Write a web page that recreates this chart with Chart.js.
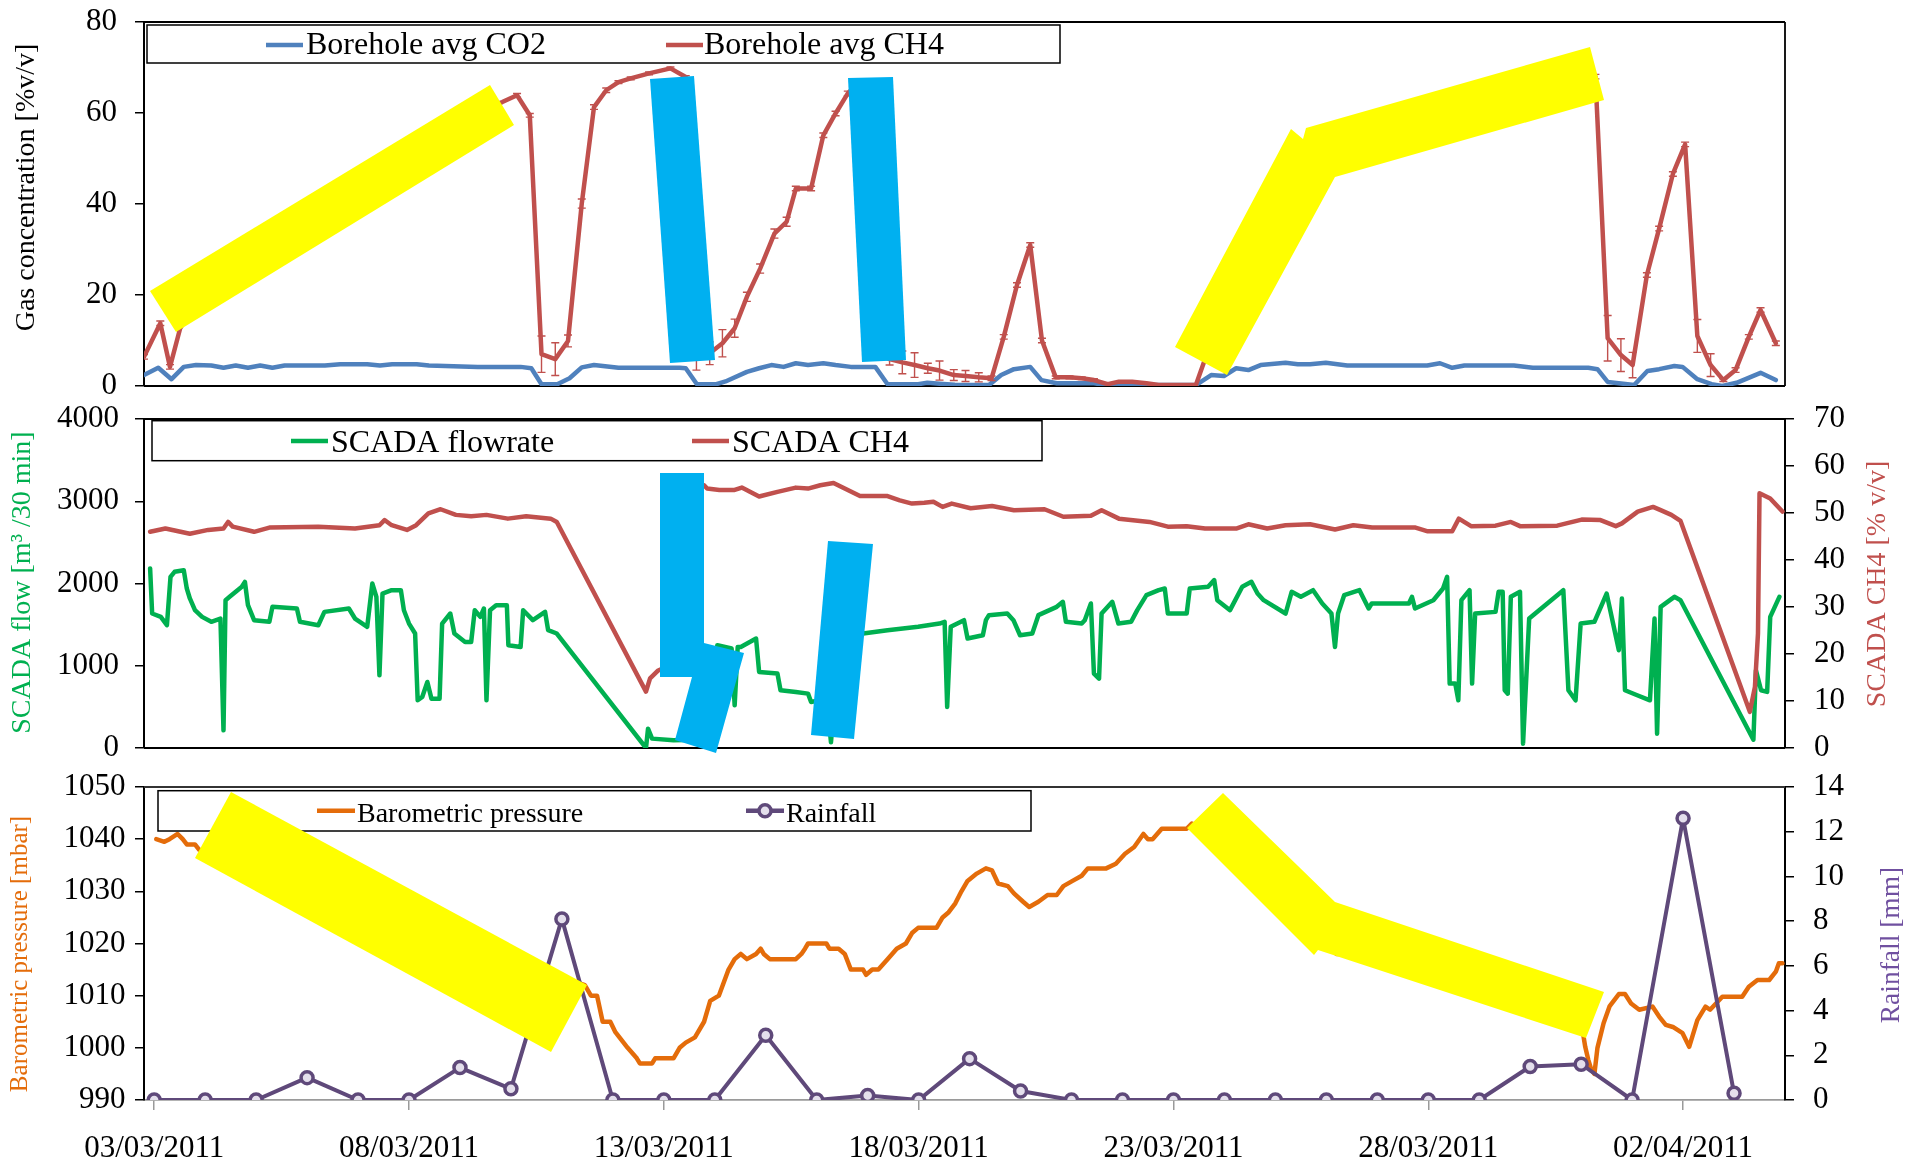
<!DOCTYPE html>
<html>
<head>
<meta charset="utf-8">
<title>Borehole gas, SCADA and weather, March 2011</title>
<script src="https://cdn.jsdelivr.net/npm/chart.js@4.4.1/dist/chart.umd.min.js"></script>
<style>
  html, body { margin:0; padding:0; background:#ffffff; }
  #stage { position:relative; width:1909px; height:1164px; overflow:hidden; background:#ffffff; }
  #stage canvas { position:absolute; left:0; }
  #marks { position:absolute; left:0; top:0; pointer-events:none; }
</style>
</head>
<body>
<div id="stage">
  <canvas id="gas" width="1909" height="420" style="top:0px;width:1909px;height:420px"></canvas>
  <canvas id="scada" width="1909" height="370" style="top:400px;width:1909px;height:370px"></canvas>
  <canvas id="weather" width="1909" height="399" style="top:765px;width:1909px;height:399px"></canvas>
  <svg id="marks" width="1909" height="1164" xmlns="http://www.w3.org/2000/svg">
    <polygon fill="#FFFF00" points="150,291 490,85 514,125 176,332"/>
    <polygon fill="#00B0F0" points="650,79 694,76 715,360 670,363"/>
    <polygon fill="#00B0F0" points="848,78 893,77 906,360 862,362"/>
    <polygon fill="#FFFF00" points="1175,347 1291,129 1303,139 1306,128 1590,47 1604,100 1335,177 1227,375"/>
    <polygon fill="#00B0F0" points="660,473 704,473 704,643 744,653 716,753 675,740 692,677 660,677"/>
    <polygon fill="#00B0F0" points="828,541 873,544 854,739 811,735"/>
    <polygon fill="#FFFF00" points="231,792 587,985 551,1052 195,858"/>
    <polygon fill="#FFFF00" points="1187,828 1223,793 1335,902 1604,992 1586,1038 1318,950 1314,955"/>
  </svg>
</div>
<script>
// ---------- data (x = days after 03/03/2011 00:00) ----------
const xTickDays   = [0, 5, 10, 15, 20, 25, 30];
const xTickLabels = ['03/03/2011','08/03/2011','13/03/2011','18/03/2011','23/03/2011','28/03/2011','02/04/2011'];
const xMin = -0.2, xMax = 32;

// Borehole average CO2 [%v/v]: [day, value]
const boreholeCO2 = [[-0.2,2.4],[0.08,4.0],[0.34,1.5],[0.58,4.2],[0.82,4.6],[1.12,4.5],[1.36,4.0],[1.6,4.5],[1.84,4.0],[2.08,4.5],[2.32,4.0],[2.56,4.5],[3.35,4.5],[3.65,4.8],[4.18,4.8],[4.43,4.5],[4.67,4.8],[5.15,4.8],[5.39,4.5],[6.35,4.2],[7.19,4.2],[7.4,3.9],[7.6,0.4],[7.91,0.4],[8.15,1.7],[8.39,4.1],[8.63,4.6],[9.11,4.0],[10.31,4.0],[10.43,3.9],[10.65,0.4],[11.03,0.4],[11.21,1.0],[11.63,3.1],[11.87,3.9],[12.11,4.6],[12.35,4.2],[12.59,5.0],[12.83,4.6],[13.13,5.0],[13.37,4.6],[13.67,4.2],[14.15,4.2],[14.39,0.4],[14.99,0.4],[15.17,0.7],[15.41,0.5],[15.71,0.3],[16.38,0.2],[16.62,2.4],[16.87,3.7],[17.19,4.2],[17.41,1.3],[17.71,0.6],[18.44,0.6],[18.68,0.2],[19.05,0.4],[19.41,0.2],[20.44,0.2],[20.74,2.4],[20.99,2.2],[21.23,3.9],[21.47,3.5],[21.71,4.6],[22.2,5.1],[22.44,4.8],[22.68,4.8],[22.99,5.1],[23.41,4.5],[24.98,4.5],[25.23,5.0],[25.47,4.0],[25.71,4.5],[26.68,4.5],[27.05,4.0],[28.14,4.0],[28.32,3.7],[28.52,0.9],[29.04,0.2],[29.3,3.3],[29.53,3.7],[29.83,4.4],[29.99,4.2],[30.28,1.5],[30.56,0.4],[30.77,0.0],[31.05,0.7],[31.52,2.9],[31.82,1.3]];

// Borehole average CH4 [%v/v]: [day, value, error half-range]
const boreholeCH4 = [[-0.2,6.4,0.5],[0.12,13.8,0.5],[0.31,4.2,0.5],[0.51,12.7,0],[0.75,17,0],[1.0,21,0],[1.5,25,0],[2.0,29,0],[2.5,33,0],[3.0,37,0],[3.5,40,0],[4.0,44,0],[4.5,48,0],[5.0,51,0],[5.5,55,0],[6.0,58,0],[6.5,61,0],[6.83,62.4,0],[7.12,63.9,0.4],[7.37,59.5,0.4],[7.6,7.0,4],[7.87,5.9,3.6],[8.12,9.9,1.3],[8.39,40.1,1],[8.63,61.3,0.5],[8.87,65,0.5],[9.11,66.8,0.3],[9.35,67.6,0.3],[9.71,68.7,0.3],[10.13,69.8,0.3],[10.43,67.9,0.3],[10.64,7.0,3.5],[10.9,7.2,2.5],[11.15,9.4,3],[11.39,12.7,2],[11.63,19.6,1],[11.89,25.8,1],[12.17,33.5,1],[12.41,36.1,1],[12.59,43.4,0.5],[12.89,43.4,0.5],[13.13,55.1,0.5],[13.37,59.9,0.5],[13.61,64.3,0.5],[13.85,67,0],[14.2,7,0],[14.43,5.9,1.3],[14.68,5.2,2.5],[14.92,4.6,2.7],[15.18,3.9,1.1],[15.41,3.4,2.1],[15.69,2.4,1.2],[15.92,2.2,1.2],[16.18,1.9,1],[16.43,1.7,0.5],[16.67,10.8,0.5],[16.93,22.2,0.5],[17.19,31.0,0.5],[17.42,10.0,0.5],[17.69,1.9,0.3],[17.96,1.9,0.3],[18.2,1.7,0.3],[18.44,1.3,0.3],[18.71,0.4,0],[18.93,0.95,0],[19.19,0.95,0],[19.47,0.6,0],[19.71,0.2,0],[19.96,0.2,0],[20.2,0.2,0],[20.44,0.2,0],[20.6,5.3,0],[21.0,15,0],[21.5,28,0],[22.0,40,0],[22.5,50,0],[23.0,53,0],[24.0,58,0],[25.0,60,0],[26.0,63,0],[27.0,65,0],[28.0,67,0],[28.28,68,0.5],[28.52,10.5,5],[28.78,6.8,3.6],[29.01,4.6,2.8],[29.29,24.4,0.5],[29.53,34.6,0.5],[29.8,46.6,0.5],[30.04,53.1,0.5],[30.28,11,3.6],[30.54,4.6,2.5],[30.79,1.3,0.3],[31.03,3.5,0.5],[31.29,10.8,0.5],[31.52,16.7,0.5],[31.82,9.4,0.5]];

// SCADA flowrate [m3 / 30 min]: [day, value]
const scadaFlow = [[-0.08,2183],[-0.04,1635],[0.13,1594],[0.25,1493],[0.32,2081],[0.4,2142],[0.58,2162],[0.64,1939],[0.7,1818],[0.8,1676],[0.94,1594],[1.12,1534],[1.3,1574],[1.36,215],[1.4,1797],[1.48,1838],[1.72,1960],[1.78,2020],[1.84,1736],[1.96,1554],[2.26,1534],[2.32,1716],[2.8,1696],[2.86,1534],[3.22,1493],[3.34,1655],[3.82,1696],[3.94,1574],[4.18,1473],[4.28,2000],[4.36,1838],[4.42,884],[4.48,1878],[4.66,1919],[4.84,1919],[4.9,1675],[5.0,1513],[5.12,1392],[5.17,580],[5.26,621],[5.36,803],[5.44,600],[5.6,600],[5.65,1513],[5.81,1635],[5.89,1392],[6.1,1290],[6.22,1290],[6.29,1675],[6.4,1594],[6.47,1696],[6.52,580],[6.59,1675],[6.71,1736],[6.92,1736],[6.95,1250],[7.19,1229],[7.24,1675],[7.43,1554],[7.67,1655],[7.73,1432],[7.9,1392],[9.65,0],[9.69,235],[9.77,114],[10.19,93],[10.6,100],[10.95,110],[11.05,1250],[11.33,1209],[11.39,519],[11.45,1229],[11.51,1229],[11.81,1331],[11.87,925],[12.23,905],[12.29,702],[12.59,682],[12.83,661],[12.89,560],[13.2,600],[13.28,70],[13.35,600],[13.8,1350],[13.91,1392],[14.39,1432],[14.99,1473],[15.41,1513],[15.51,1534],[15.56,499],[15.63,1473],[15.89,1554],[15.96,1331],[16.26,1371],[16.32,1554],[16.38,1615],[16.74,1635],[16.86,1554],[16.99,1371],[17.23,1392],[17.35,1615],[17.71,1716],[17.83,1777],[17.89,1534],[18.2,1513],[18.26,1554],[18.38,1757],[18.44,905],[18.54,844],[18.59,1635],[18.8,1777],[18.92,1513],[19.17,1534],[19.29,1676],[19.47,1858],[19.71,1919],[19.83,1939],[19.89,1635],[20.26,1635],[20.32,1939],[20.68,1960],[20.8,2041],[20.86,1797],[21.11,1676],[21.35,1960],[21.53,2020],[21.65,1878],[21.77,1797],[22.2,1635],[22.32,1899],[22.5,1838],[22.74,1919],[22.92,1757],[23.1,1635],[23.17,1229],[23.23,1635],[23.35,1858],[23.65,1919],[23.83,1696],[23.89,1757],[24.62,1757],[24.68,1838],[24.74,1696],[25.1,1797],[25.29,1939],[25.37,2081],[25.42,783],[25.53,783],[25.59,580],[25.65,1797],[25.81,1919],[25.86,783],[25.92,1635],[26.32,1655],[26.38,1899],[26.46,1899],[26.5,702],[26.56,661],[26.62,1838],[26.8,1899],[26.86,53],[26.98,1574],[27.65,1919],[27.75,702],[27.89,580],[27.99,1513],[28.26,1534],[28.5,1878],[28.74,1189],[28.8,1818],[28.86,702],[29.1,641],[29.35,580],[29.44,1574],[29.49,174],[29.56,1716],[29.83,1838],[29.95,1797],[31.38,101],[31.43,945],[31.53,702],[31.65,682],[31.71,1594],[31.89,1838]];

// SCADA CH4 [% v/v]: [day, value]
const scadaCH4 = [[-0.08,46.0],[0.22,46.7],[0.7,45.6],[1.06,46.4],[1.36,46.7],[1.45,48.1],[1.54,47.1],[1.96,46.0],[2.26,46.9],[3.22,47.1],[3.94,46.7],[4.42,47.4],[4.52,48.5],[4.66,47.4],[4.96,46.4],[5.14,47.4],[5.38,49.9],[5.62,50.8],[5.92,49.6],[6.22,49.3],[6.52,49.6],[6.94,48.8],[7.3,49.3],[7.78,48.8],[7.9,48.1],[9.65,12.0],[9.73,14.8],[9.89,16.5],[10.2,18],[10.5,54],[10.79,55.9],[10.85,55.2],[11.09,54.9],[11.39,54.9],[11.53,55.4],[11.87,53.5],[12.23,54.5],[12.59,55.4],[12.83,55.2],[13.07,55.9],[13.33,56.4],[13.55,55.2],[13.85,53.6],[14.39,53.6],[14.63,52.7],[14.87,52.0],[15.11,52.2],[15.29,52.4],[15.47,51.3],[15.65,52.0],[16.02,51.0],[16.44,51.5],[16.87,50.6],[17.47,50.8],[17.84,49.2],[18.38,49.4],[18.59,50.6],[18.93,48.8],[19.53,48.1],[19.89,47.1],[20.26,47.2],[20.62,46.7],[21.23,46.7],[21.47,47.6],[21.84,46.7],[22.2,47.4],[22.68,47.6],[23.17,46.5],[23.53,47.4],[23.9,46.9],[24.75,46.9],[24.99,46.1],[25.47,46.1],[25.6,48.8],[25.84,47.2],[26.32,47.3],[26.62,48.1],[26.8,47.2],[27.53,47.3],[28.01,48.6],[28.38,48.5],[28.68,47.2],[28.8,47.8],[29.11,50.3],[29.41,51.3],[29.56,50.6],[29.77,49.6],[29.95,48.3],[31.31,7.7],[31.41,13],[31.47,24.4],[31.5,54.2],[31.71,53.1],[31.95,50.3]];

// Barometric pressure [mbar]: [day, value]
const pressure = [[0.04,1040],[0.2,1039.5],[0.3,1040],[0.46,1041],[0.56,1040],[0.64,1039],[0.8,1039],[0.88,1038],[1.5,1036],[2,1034],[3,1031],[4,1028],[5,1024],[6,1021],[7,1017],[8,1013.5],[8.45,1012],[8.57,1010],[8.69,1010],[8.8,1005],[8.95,1005],[9.05,1003],[9.29,1000],[9.47,998],[9.53,997],[9.77,997],[9.83,998],[10.19,998],[10.31,1000],[10.43,1001],[10.61,1002],[10.79,1005],[10.91,1009],[11.08,1010],[11.27,1015],[11.39,1017],[11.51,1018],[11.63,1017],[11.81,1018],[11.9,1019],[11.96,1018],[12.08,1017],[12.59,1017],[12.7,1018],[12.77,1019],[12.83,1020],[13.19,1020],[13.25,1019],[13.43,1019],[13.55,1018],[13.67,1015],[13.91,1015],[13.97,1014],[14.09,1015],[14.21,1015],[14.39,1017],[14.57,1019],[14.75,1020],[14.87,1022],[14.99,1023],[15.35,1023],[15.47,1025],[15.59,1026],[15.72,1027.7],[15.84,1030],[15.96,1032],[16.14,1033.4],[16.32,1034.4],[16.44,1034],[16.56,1031.5],[16.75,1031],[16.87,1029.6],[17.05,1028],[17.17,1027],[17.35,1028],[17.53,1029.3],[17.71,1029.3],[17.84,1031],[18.02,1032],[18.2,1033],[18.32,1034.4],[18.68,1034.4],[18.87,1035.3],[19.05,1037.2],[19.23,1038.5],[19.41,1041],[19.5,1040],[19.59,1040],[19.77,1042],[20.26,1042],[20.36,1043],[21,1040],[21.5,1036],[22,1031],[22.5,1026],[23,1021],[23.2,1018],[24,1018],[25,1016],[26,1013],[27,1010],[27.8,1007],[28.0,1005],[28.08,1000.2],[28.14,997.7],[28.2,995.8],[28.26,995],[28.32,1000],[28.44,1004.7],[28.56,1008],[28.74,1010.3],[28.86,1010.3],[28.98,1008.5],[29.14,1007.3],[29.4,1007.9],[29.53,1006],[29.66,1004.4],[29.8,1004],[29.99,1002.8],[30.12,1000.2],[30.28,1005.3],[30.44,1007.9],[30.53,1007.3],[30.77,1009.8],[31.16,1009.8],[31.29,1011.7],[31.46,1013],[31.69,1013],[31.82,1014.6],[31.88,1016.2],[31.95,1016.2]];

// Daily rainfall [mm], one value per day starting 03/03/2011
const rainfall = [0,0,0,1.0,0,0,1.45,0.5,8.1,0,0,0,2.9,0,0.2,0,1.85,0.4,0,0,0,0,0,0,0,0,0,1.5,1.6,0,12.6,0.3];

// ---------- helpers ----------
const SERIF = '"Liberation Serif", "Times New Roman", serif';
const pts = arr => arr.map(p => ({x: p[0], y: p[1]}));
const rainPts = rainfall.map((v, i) => ({x: i, y: v}));
const ch4Errors = boreholeCH4.map(p => p[2]);
const noComma = v => String(v);

function yAxis(pos, min, max, step, pad) {
  return {
    type: 'linear', position: pos, min: min, max: max,
    ticks: { stepSize: step, padding: pad, color: '#000', font: {family: SERIF, size: 31}, callback: noComma },
    grid: { drawOnChartArea: false, drawTicks: true, tickLength: 9, color: '#000', lineWidth: 1.5 },
    border: { display: true, color: '#000', width: 2 },
    afterFit(s) {
      s.width = (pos === 'left') ? 144 : 124;
      s.paddingTop = 0; s.paddingBottom = 0;
    }
  };
}
function hiddenX() {
  return { type: 'linear', min: xMin, max: xMax, display: false };
}

// ---------- plugins ----------
const framePlugin = {
  id: 'frame',
  beforeDatasetsDraw(chart, args, o) {
    const {ctx, chartArea: a} = chart;
    ctx.save();
    ctx.strokeStyle = o.color || '#000';
    ctx.lineWidth = o.width || 1.5;
    ctx.beginPath();
    if (o.top)    { ctx.moveTo(a.left, a.top);    ctx.lineTo(a.right, a.top); }
    if (o.right)  { ctx.moveTo(a.right, a.top);   ctx.lineTo(a.right, a.bottom); }
    if (o.bottom) { ctx.moveTo(a.left, a.bottom); ctx.lineTo(a.right, a.bottom); }
    ctx.stroke();
    ctx.restore();
  }
};

const errorBarPlugin = {
  id: 'errbars',
  afterDatasetsDraw(chart, args, o) {
    if (!o.errors) return;
    const meta = chart.getDatasetMeta(o.datasetIndex);
    const ys = chart.scales[meta.yAxisID];
    const data = chart.data.datasets[o.datasetIndex].data;
    const {ctx, chartArea: a} = chart;
    ctx.save();
    ctx.beginPath(); ctx.rect(a.left, a.top, a.right - a.left, a.bottom - a.top); ctx.clip();
    ctx.strokeStyle = o.color; ctx.lineWidth = 1.4;
    data.forEach((p, i) => {
      const e = o.errors[i];
      if (!e) return;
      const x = meta.data[i].x;
      const y1 = ys.getPixelForValue(p.y - e), y2 = ys.getPixelForValue(p.y + e);
      ctx.beginPath();
      ctx.moveTo(x, y1); ctx.lineTo(x, y2);
      ctx.moveTo(x - 4, y1); ctx.lineTo(x + 4, y1);
      ctx.moveTo(x - 4, y2); ctx.lineTo(x + 4, y2);
      ctx.stroke();
    });
    ctx.restore();
  }
};

const boxLegendPlugin = {
  id: 'boxLegend',
  afterDraw(chart, args, o) {
    if (!o.box) return;
    const ctx = chart.ctx;
    const [l, t, r, b] = o.box;
    ctx.save();
    ctx.fillStyle = '#fff';
    ctx.fillRect(l, t, r - l, b - t);
    ctx.strokeStyle = '#000'; ctx.lineWidth = 1.5;
    ctx.strokeRect(l, t, r - l, b - t);
    ctx.font = o.size + 'px ' + SERIF;
    ctx.textBaseline = 'alphabetic'; ctx.textAlign = 'left';
    o.items.forEach(it => {
      const ds = chart.data.datasets[it.ds];
      ctx.strokeStyle = ds.borderColor; ctx.lineWidth = 4.5; ctx.lineCap = 'butt';
      ctx.beginPath(); ctx.moveTo(it.x1, o.lineY); ctx.lineTo(it.x2, o.lineY); ctx.stroke();
      if (it.marker) {
        ctx.beginPath(); ctx.arc((it.x1 + it.x2) / 2, o.lineY, 6, 0, Math.PI * 2);
        ctx.fillStyle = ds.pointBackgroundColor; ctx.fill();
        ctx.lineWidth = 3.5; ctx.stroke();
      }
      ctx.fillStyle = '#000';
      ctx.fillText(ds.label, it.tx, o.baseline);
    });
    ctx.restore();
  }
};

const sideTitlePlugin = {
  id: 'sideTitles',
  afterDraw(chart, args, o) {
    if (!o.items) return;
    const ctx = chart.ctx;
    o.items.forEach(it => {
      ctx.save();
      ctx.translate(it.x, it.y);
      ctx.rotate(-Math.PI / 2);
      ctx.font = it.size + 'px ' + SERIF;
      ctx.fillStyle = it.color;
      ctx.textAlign = 'center'; ctx.textBaseline = 'middle';
      ctx.fillText(it.text, 0, 0);
      ctx.restore();
    });
  }
};

const allPlugins = [framePlugin, errorBarPlugin, boxLegendPlugin, sideTitlePlugin];
const lineDefaults = { pointRadius: 0, tension: 0, fill: false, borderJoinStyle: 'round', borderCapStyle: 'round' };

// ---------- panel 1: borehole gas ----------
new Chart(document.getElementById('gas'), {
  type: 'line',
  data: { datasets: [
    Object.assign({ label: 'Borehole avg CO2', data: pts(boreholeCO2), borderColor: '#4F81BD', borderWidth: 4.5, order: 1 }, lineDefaults),
    Object.assign({ label: 'Borehole avg CH4', data: pts(boreholeCH4), borderColor: '#C0504D', borderWidth: 4.5, order: 0 }, lineDefaults)
  ]},
  options: {
    responsive: false, animation: false,
    layout: { padding: { top: 22, bottom: 34, left: 0, right: 124 } },
    scales: { x: hiddenX(), y: yAxis('left', 0, 80, 20, 18) },
    plugins: {
      legend: { display: false }, tooltip: { enabled: false },
      frame: { top: true, right: true, bottom: true, color: '#000', width: 1.8 },
      errbars: { datasetIndex: 1, errors: ch4Errors, color: '#C0504D' },
      boxLegend: { box: [147, 25, 1060, 63], lineY: 45, baseline: 54, size: 32,
        items: [ {ds: 0, x1: 266, x2: 303, tx: 306}, {ds: 1, x1: 666, x2: 703, tx: 704} ] },
      sideTitles: { items: [ {text: 'Gas concentration [%v/v]', x: 26.5, y: 187.5, color: '#000', size: 28} ] }
    }
  },
  plugins: allPlugins
});

// ---------- panel 2: SCADA ----------
new Chart(document.getElementById('scada'), {
  type: 'line',
  data: { datasets: [
    Object.assign({ label: 'SCADA flowrate', data: pts(scadaFlow), borderColor: '#00B050', borderWidth: 4.5, yAxisID: 'y', order: 1 }, lineDefaults),
    Object.assign({ label: 'SCADA CH4', data: pts(scadaCH4), borderColor: '#C0504D', borderWidth: 4.5, yAxisID: 'y1', order: 0 }, lineDefaults)
  ]},
  options: {
    responsive: false, animation: false,
    layout: { padding: { top: 19, bottom: 22, left: 0, right: 0 } },
    scales: { x: hiddenX(), y: yAxis('left', 0, 4000, 1000, 16), y1: yAxis('right', 0, 70, 10, 20) },
    plugins: {
      legend: { display: false }, tooltip: { enabled: false },
      frame: { top: true, bottom: true, color: '#000', width: 1.8 },
      boxLegend: { box: [152, 20.7, 1042, 60.7], lineY: 41, baseline: 51.7, size: 32,
        items: [ {ds: 0, x1: 291, x2: 328, tx: 331}, {ds: 1, x1: 692, x2: 729, tx: 732} ] },
      sideTitles: { items: [
        {text: 'SCADA flow [m³ /30 min]', x: 23, y: 182.5, color: '#00B050', size: 28},
        {text: 'SCADA CH4 [% v/v]', x: 1878, y: 184, color: '#C0504D', size: 28}
      ] }
    }
  },
  plugins: allPlugins
});

// ---------- panel 3: weather ----------
new Chart(document.getElementById('weather'), {
  type: 'line',
  data: { datasets: [
    Object.assign({ label: 'Barometric pressure', data: pts(pressure), borderColor: '#E46C0A', borderWidth: 4.5, yAxisID: 'y', order: 1 }, lineDefaults),
    Object.assign({}, lineDefaults, { label: 'Rainfall', data: rainPts, borderColor: '#5F497A', borderWidth: 4, yAxisID: 'y1', order: 0,
      pointRadius: 6, pointBorderWidth: 3.5, pointBackgroundColor: '#E4DFEC', pointBorderColor: '#5F497A', pointStyle: 'circle' })
  ]},
  options: {
    responsive: false, animation: false,
    layout: { padding: { top: 22, bottom: 0, left: 0, right: 0 } },
    scales: {
      x: {
        type: 'linear', min: xMin, max: xMax,
        afterBuildTicks(s) { s.ticks = xTickDays.map(v => ({value: v})); },
        ticks: { autoSkip: false, maxRotation: 0, minRotation: 0, padding: 20, color: '#000',
          font: {family: SERIF, size: 31},
          callback: v => { const i = xTickDays.indexOf(v); return i >= 0 ? xTickLabels[i] : ''; } },
        grid: { drawOnChartArea: false, drawTicks: true, tickLength: 10, color: '#9a9a9a', lineWidth: 1.5 },
        border: { display: true, color: '#9a9a9a', width: 1.8 },
        afterFit(s) { s.height = 64; s.paddingLeft = 0; s.paddingRight = 0; }
      },
      y: yAxis('left', 990, 1050, 10, 9.5),
      y1: yAxis('right', 0, 14, 2, 19)
    },
    plugins: {
      legend: { display: false }, tooltip: { enabled: false },
      frame: { top: true, color: '#333', width: 1.8 },
      boxLegend: { box: [158, 25.7, 1031, 66], lineY: 45.7, baseline: 56.7, size: 28,
        items: [ {ds: 0, x1: 317, x2: 355, tx: 357}, {ds: 1, x1: 746, x2: 784, tx: 786, marker: true} ] },
      sideTitles: { items: [
        {text: 'Barometric pressure [mbar]', x: 20, y: 189, color: '#E46C0A', size: 25},
        {text: 'Rainfall [mm]', x: 1892, y: 180, color: '#7050A0', size: 27.5}
      ] }
    }
  },
  plugins: allPlugins
});
</script>
</body>
</html>
